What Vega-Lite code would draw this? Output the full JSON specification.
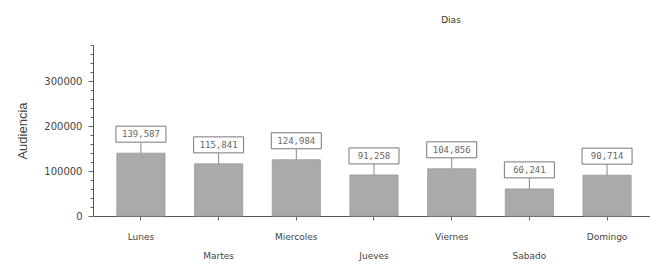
{
  "$schema": "https://vega.github.io/schema/vega-lite/v6.json",
  "autosize": "none",
  "padding": {"left": 93, "top": 45, "right": 0, "bottom": 48},
  "width": 562,
  "height": 171,
  "background": "white",
  "view": {"stroke": null},
  "title": {"text": "Dias", "fontSize": 9, "font": "DejaVu Sans", "fontWeight": "normal", "color": "#333", "dx": 77, "offset": 20},
  "data": {"values": [
    {"dia": "Lunes", "audiencia": 139587, "etiqueta": "139,587"},
    {"dia": "Martes", "audiencia": 115841, "etiqueta": "115,841"},
    {"dia": "Miercoles", "audiencia": 124984, "etiqueta": "124,984"},
    {"dia": "Jueves", "audiencia": 91258, "etiqueta": "91,258"},
    {"dia": "Viernes", "audiencia": 104856, "etiqueta": "104,856"},
    {"dia": "Sabado", "audiencia": 60241, "etiqueta": "60,241"},
    {"dia": "Domingo", "audiencia": 90714, "etiqueta": "90,714"}
  ]},
  "encoding": {
    "x": {"field": "dia", "type": "nominal", "sort": null,
      "scale": {"paddingInner": 0.38, "paddingOuter": 0.307},
      "axis": {"title": null, "labelAngle": 0, "labelFont": "DejaVu Sans", "labelFontSize": 9, "labelColor": "#444",
        "labelExpr": "indexof(['Martes','Jueves','Sabado'], datum.value) >= 0 ? ['', datum.label] : datum.label",
        "labelLineHeight": 19, "labelPadding": 12, "tickSize": 4, "tickColor": "#666", "domainColor": "#555", "labelBaseline": "top"}},
    "y": {"field": "audiencia", "type": "quantitative",
      "scale": {"domain": [0, 380000], "nice": false},
      "axis": {"title": "Audiencia", "titleFont": "Liberation Sans", "titleFontSize": 13, "titleFontWeight": "normal", "titleColor": "#444", "titlePadding": 14,
        "values": [0,20000,40000,60000,80000,100000,120000,140000,160000,180000,200000,220000,240000,260000,280000,300000,320000,340000,360000,380000],
        "labelExpr": "datum.value % 100000 === 0 ? format(datum.value, 'd') : ''",
        "labelFont": "DejaVu Sans", "labelFontSize": 10, "labelColor": "#444", "labelPadding": 6,
        "tickSize": {"condition": {"test": "datum.value % 100000 === 0", "value": 5}, "value": 3},
        "tickColor": "#666", "domainColor": "#555", "grid": false}}
  },
  "layer": [
    {"mark": {"type": "bar", "fill": "#aaaaaa", "stroke": "#999999", "strokeWidth": 0.8}},
    {"mark": {"type": "rule", "color": "#888", "strokeWidth": 1, "y2Offset": -11}, "encoding": {"y2": {"field": "audiencia"}}},
    {"mark": {"type": "point", "shape": "M-1,-0.32H1V0.32H-1Z", "size": 2500, "filled": false, "fill": "white", "fillOpacity": 1, "stroke": "#777", "strokeWidth": 1, "opacity": 1, "yOffset": -19}},
    {"mark": {"type": "text", "font": "DejaVu Sans Mono", "fontSize": 9, "color": "#666", "yOffset": -19, "baseline": "middle"}, "encoding": {"text": {"field": "etiqueta"}}}
  ]
}
